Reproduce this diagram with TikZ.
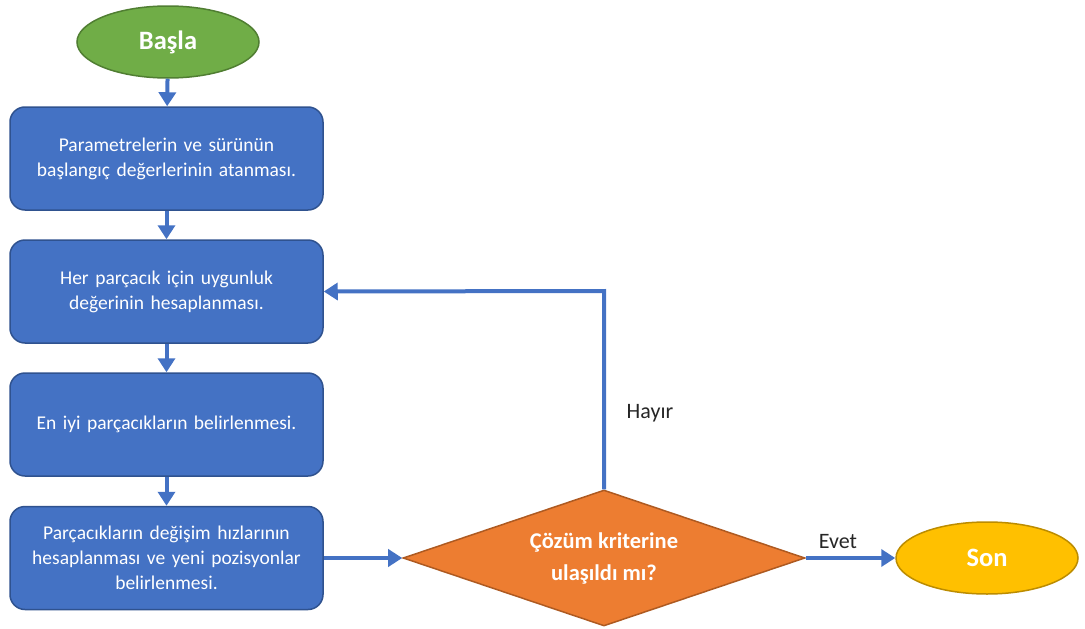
\documentclass[tikz,border=0pt]{standalone}
\usepackage{fontspec}
\setmainfont{Carlito}
\usetikzlibrary{shapes.geometric,arrows.meta}
\definecolor{boxblue}{HTML}{4472C4}
\definecolor{boxedge}{HTML}{2F528F}
\definecolor{startgreen}{HTML}{70AD47}
\definecolor{startedge}{HTML}{507E32}
\definecolor{decorange}{HTML}{ED7D31}
\definecolor{decedge}{HTML}{AE5A21}
\definecolor{endgold}{HTML}{FFC000}
\definecolor{endedge}{HTML}{BC8C00}
\tikzset{
  x=1pt, y=-1pt,
  stepbox/.style={draw=boxedge, line width=1.5pt, fill=boxblue, rounded corners=15pt,
    minimum width=313pt, minimum height=103pt, text width=300pt, align=center,
    text=white, font=\fontsize{19.5}{25}\selectfont, inner sep=0pt},
  terminal/.style={ellipse, line width=1.5pt, minimum width=182pt, minimum height=72pt,
    text=white, font=\fontsize{26.5}{30}\selectfont\bfseries, inner sep=0pt},
  decision/.style={diamond, draw=decedge, fill=decorange, line width=1.5pt, aspect=2.95,
    minimum width=402pt, minimum height=136pt, text=white, align=center,
    font=\fontsize{22.5}{32}\selectfont\bfseries, inner sep=0pt},
  flow/.style={draw=boxblue, line width=4pt, -{Triangle[length=14pt,width=17pt]}},
  edgelabel/.style={font=\fontsize{22}{26}\selectfont, text=black!85}
}
\begin{document}
\begin{tikzpicture}
\useasboundingbox (0,0) rectangle (1085,629);
\node[terminal, draw=startedge, fill=startgreen] (start) at (168,42) {Başla};
\node[stepbox] (init) at (166.5,158.5) {Parametrelerin ve sürünün\\başlangıç değerlerinin atanması.};
\node[stepbox] (fit) at (166.5,291.5) {Her parçacık için uygunluk\\değerinin hesaplanması.};
\node[stepbox] (best) at (166.5,424.5) {En iyi parçacıkların belirlenmesi.};
\node[stepbox] (upd) at (166.5,558) {Parçacıkların değişim hızlarının\\hesaplanması ve yeni pozisyonlar\\belirlenmesi.};
\node[decision] (dec) at (604,558) {Çözüm kriterine\\ulaşıldı mı?};
\node[terminal, draw=endedge, fill=endgold] (stop) at (987,558) {Son};
\coordinate (loop) at (604,291);

\draw[flow] (start) -- (init);
\draw[flow] (init) -- (fit);
\draw[flow] (fit) -- (best);
\draw[flow] (best) -- (upd);
\draw[flow] (upd) -- (dec);
\draw[flow] (dec.north) -- (loop) -- (fit.east);
\draw[flow] (dec.east) -- (stop);

\node[edgelabel] (no) at (650,413) {Hayır};
\node[edgelabel] (yes) at (838,542) {Evet};
\end{tikzpicture}
\end{document}
